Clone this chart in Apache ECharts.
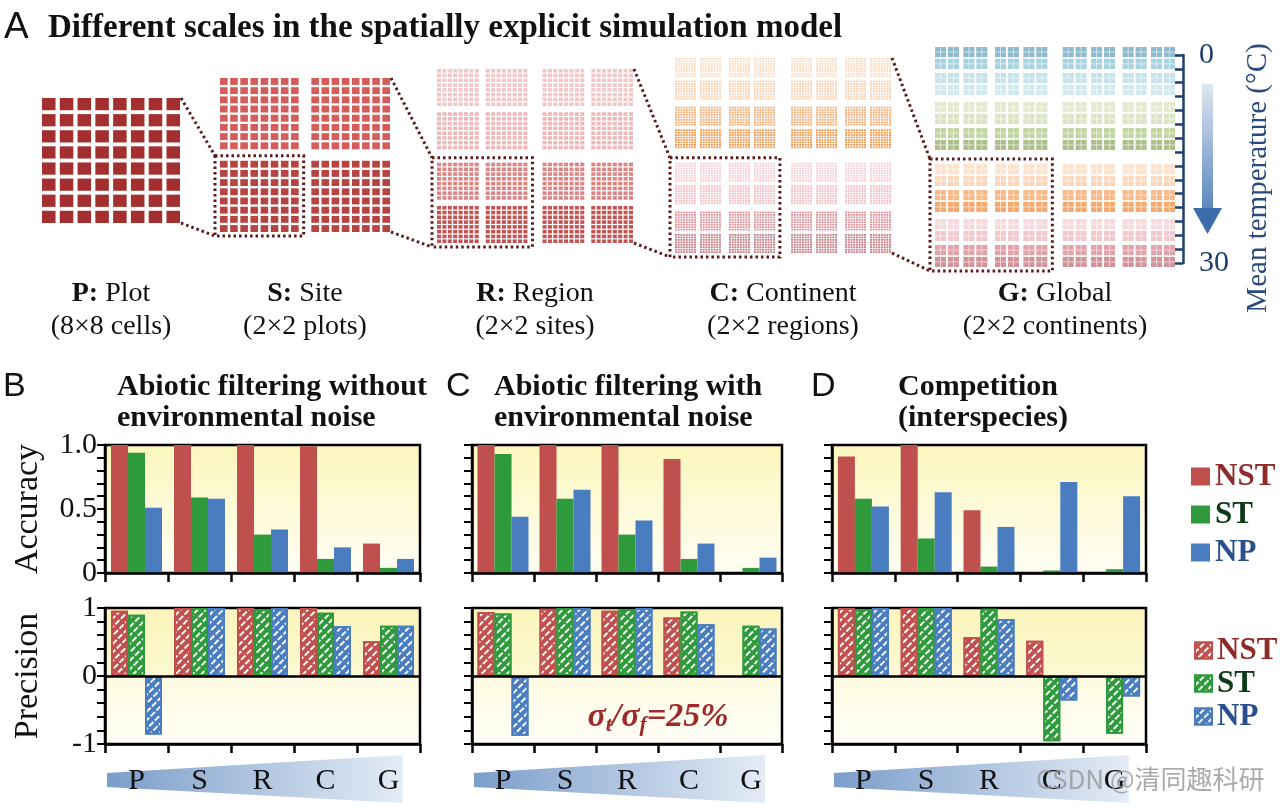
<!DOCTYPE html>
<html><head><meta charset="utf-8">
<script src="https://cdn.jsdelivr.net/npm/echarts@6/dist/echarts.min.js"></script>
<style>html,body{margin:0;padding:0;background:#fff}#c{width:1280px;height:808px}</style>
</head><body><div id="c"></div>
<script>
// ---------------- DATA ----------------
const categories = ['P', 'S', 'R', 'C', 'G'];
const seriesNames = ['NST', 'ST', 'NP'];
// Accuracy (top row of panels B, C, D)
const accB_NST = [1.00, 1.00, 1.00, 0.99, 0.23];
const accB_ST  = [0.94, 0.59, 0.30, 0.11, 0.04];
const accB_NP  = [0.51, 0.58, 0.34, 0.20, 0.11];
const accC_NST = [1.00, 1.00, 1.00, 0.89, 0];
const accC_ST  = [0.93, 0.58, 0.30, 0.11, 0.04];
const accC_NP  = [0.44, 0.65, 0.41, 0.23, 0.12];
const accD_NST = [0.91, 1.00, 0.49, 0.005, 0];
const accD_ST  = [0.58, 0.27, 0.05, 0.02, 0.03];
const accD_NP  = [0.52, 0.63, 0.36, 0.71, 0.60];
// Precision (bottom row of panels B, C, D)
const preB_NST = [0.96, 1.00, 1.00, 1.00, 0.51];
const preB_ST  = [0.90, 1.00, 0.98, 0.93, 0.74];
const preB_NP  = [-0.86, 1.00, 1.00, 0.73, 0.74];
const preC_NST = [0.94, 0.99, 0.96, 0.86, null];
const preC_ST  = [0.92, 1.00, 0.98, 0.95, 0.74];
const preC_NP  = [-0.88, 1.00, 1.00, 0.76, 0.70];
const preD_NST = [1.00, 1.00, 0.57, 0.52, null];
const preD_ST  = [0.98, 1.00, 0.99, -0.96, -0.85];
const preD_NP  = [1.00, 1.00, 0.84, -0.36, -0.30];
// Tick labels
const accTickLabels = [[0, '0'], [0.5, '0.5'], [1, '1.0']];
const preTickLabels = [[-1, '-1'], [0, '0'], [1, '1']];
const tempTickLabels = [[0, '0'], [30, '30']];
// Panel A: scale names and plot-row colours (mean temperature gradient)
const scaleLabels = [
  ['P:', ' Plot', '(8×8 cells)'],
  ['S:', ' Site', '(2×2 plots)'],
  ['R:', ' Region', '(2×2 sites)'],
  ['C:', ' Continent', '(2×2 regions)'],
  ['G:', ' Global', '(2×2 continents)']
];
const plotRowColorsP = ['#a3302f'];
const plotRowColorsS = ['#d45c5b', '#b64443'];
const plotRowColorsR = ['#f2c6c6', '#edb8b8', '#dc8484', '#c25353'];
const plotRowColorsC = ['#fcdcc2', '#fad2b3', '#f6af76', '#f19a52', '#f4d0d5', '#efc1c6', '#e0939b', '#c37e86'];
const plotRowColorsG = ['#8dbacd', '#a7d2e0', '#c6e3eb', '#d1e9ef', '#e4eacf', '#dbe5c5', '#c2d5a2', '#adc08b',
                        '#fde3ce', '#fad8be', '#f6b988', '#f3aa6f', '#f6d9dd', '#f1cacf', '#e2a2a9', '#d0959b'];

// ---------------- STYLE ----------------
const SERIF = '"Liberation Serif","DejaVu Serif",serif';
const SANS = '"Liberation Sans","DejaVu Sans",sans-serif';
const barColors = ['#c0504d', '#2f9a3c', '#4a7dc0'];
const legendTextColors = ['#8e2b2b', '#0d3a17', '#29508c'];

const scalePanels = [
  { n: 8,  u: 0.76, per: 8, gaps: [], colors: plotRowColorsP, box: [42, 98, 138, 125] },
  { n: 16, u: 0.75, per: 8, gaps: [[8, 1.0]], colors: plotRowColorsS, box: [220, 78, 170, 154] },
  { n: 32, u: 0.75, per: 8, gaps: [[8, 1.05], [16, 1.5]], colors: plotRowColorsR, box: [437, 69, 196, 174] },
  { n: 64, u: 0.72, per: 8, gaps: [[8, 1.2], [16, 1.5], [32, 3.0]], colors: plotRowColorsC, box: [675, 58, 216, 195] },
  { n: 16, u: 0.86, per: 1, gaps: [[2, 0.2], [4, 0.25], [8, 0.6]], colors: plotRowColorsG, box: [935, 47, 240, 220] }
];
function posOf(cfg, i) {
  let p = i;
  cfg.gaps.forEach(([per, g]) => { p += Math.floor(i / per) * g; });
  return p;
}
function extentOf(cfg) { return posOf(cfg, cfg.n - 1) + cfg.u; }

const barPanels = [
  { acc: [accB_NST, accB_ST, accB_NP], pre: [preB_NST, preB_ST, preB_NP], left: 105, width: 315, yLabels: true },
  { acc: [accC_NST, accC_ST, accC_NP], pre: [preC_NST, preC_ST, preC_NP], left: 472, width: 310, yLabels: false },
  { acc: [accD_NST, accD_ST, accD_NP], pre: [preD_NST, preD_ST, preD_NP], left: 832, width: 314, yLabels: false }
];
const accTop = 445, accH = 128, preTop = 608, preH = 136;

const chart = echarts.init(document.getElementById('c'));
const grids = [], xAxes = [], yAxes = [], series = [];

// Panel A grids
scalePanels.forEach((cfg, k) => {
  const ext = extentOf(cfg);
  grids.push({ left: cfg.box[0], top: cfg.box[1], width: cfg.box[2], height: cfg.box[3] });
  xAxes.push({ type: 'value', gridIndex: k, min: 0, max: ext, show: false });
  yAxes.push({ type: 'value', gridIndex: k, min: 0, max: ext, inverse: true, show: false });
  const data = [];
  for (let r = 0; r < cfg.n; r++) for (let c = 0; c < cfg.n; c++) {
    data.push([posOf(cfg, c), posOf(cfg, r), Math.floor(r / cfg.per)]);
  }
  const isG = cfg.per === 1;
  series.push({
    type: 'custom', xAxisIndex: k, yAxisIndex: k, silent: true, data: data,
    renderItem: (params, api) => {
      const p = api.coord([api.value(0), api.value(1)]);
      const s = api.size([cfg.u, cfg.u]);
      const fill = cfg.colors[api.value(2)];
      if (!isG) {
        return { type: 'rect', shape: { x: p[0], y: p[1], width: s[0], height: s[1] }, style: { fill: fill } };
      }
      // global scale: a plot block with its faint inner cell texture
      return { type: 'group', children: [
        { type: 'rect', shape: { x: p[0], y: p[1], width: s[0], height: s[1] }, style: { fill: fill } },
        { type: 'line', shape: { x1: p[0] + s[0] / 2, y1: p[1], x2: p[0] + s[0] / 2, y2: p[1] + s[1] },
          style: { stroke: 'rgba(255,255,255,0.55)', lineWidth: 1 } },
        { type: 'line', shape: { x1: p[0], y1: p[1] + s[1] / 2, x2: p[0] + s[0], y2: p[1] + s[1] / 2 },
          style: { stroke: 'rgba(255,255,255,0.55)', lineWidth: 1 } }
      ] };
    }
  });
});

// temperature scale axis (grid 5)
grids.push({ left: 1100, top: 55, width: 83, height: 208 });
xAxes.push({ type: 'value', gridIndex: 5, show: false, min: 0, max: 1 });
yAxes.push({
  type: 'value', gridIndex: 5, position: 'right', min: 0, max: 30, interval: 2, inverse: true,
  axisLine: { show: true, onZero: false, lineStyle: { color: '#1f3e6e', width: 2.5 } },
  axisTick: { show: true, inside: true, length: 8, lineStyle: { color: '#1f3e6e', width: 2.5 } },
  splitLine: { show: false },
  axisLabel: { margin: 16, fontFamily: SERIF, fontSize: 30, color: '#1f3e6e',
    formatter: v => { const t = tempTickLabels.find(d => Math.abs(d[0] - v) < 1e-6); return t ? t[1] : ''; } }
});

// Bar panels
const accBg = { type: 'linear', x: 0, y: 0, x2: 0, y2: 1, colorStops: [
  { offset: 0, color: '#fcf6bd' }, { offset: 1, color: '#fffef4' }] };
const preBg = { type: 'linear', x: 0, y: 0, x2: 0, y2: 1, colorStops: [
  { offset: 0, color: '#fbf4bb' }, { offset: 0.5, color: '#fcf8d2' },
  { offset: 0.5, color: '#fefbe2' }, { offset: 1, color: '#fffef6' }] };
const hatch = { symbol: 'rect', color: 'rgba(255,255,255,0.95)', dashArrayX: [[6, 2]], dashArrayY: [2, 4], rotation: -Math.PI / 4 };

barPanels.forEach((bp, pi) => {
  [['acc', accTop, accH], ['pre', preTop, preH]].forEach(([kind, top, h]) => {
    const gi = grids.length;
    const isPre = kind === 'pre';
    grids.push({ left: bp.left, top: top, width: bp.width, height: h, show: true,
      backgroundColor: isPre ? preBg : accBg, borderColor: '#000', borderWidth: 2.5, z: 0 });
    xAxes.push({
      type: 'category', gridIndex: gi, data: categories, z: 10,
      axisLine: { show: true, onZero: false, lineStyle: { color: '#000', width: 2.5 } },
      axisTick: { show: true, length: 9, lineStyle: { color: '#000', width: 2.5 } },
      axisLabel: { show: isPre, margin: 22, fontFamily: SERIF, fontSize: 30, color: '#111' },
      splitLine: { show: false }
    });
    const labels = isPre ? preTickLabels : accTickLabels;
    yAxes.push({
      type: 'value', gridIndex: gi, min: isPre ? -1 : 0, max: 1, interval: isPre ? 0.2 : 0.1,
      axisLine: { show: true, onZero: false, lineStyle: { color: '#000', width: 2.5 } },
      axisTick: { show: true, length: 8, lineStyle: { color: '#000', width: 2 } },
      splitLine: { show: false },
      axisLabel: { show: bp.yLabels, margin: 8, fontFamily: SERIF, fontSize: 30, color: '#111',
        formatter: v => { const t = labels.find(d => Math.abs(d[0] - v) < 1e-6); return t ? t[1] : ''; } },
      name: bp.yLabels ? (isPre ? 'Precision' : 'Accuracy') : '',
      nameLocation: 'middle', nameGap: 60,
      nameTextStyle: { fontFamily: SERIF, fontSize: 34, color: '#111' }
    });
    const vals = isPre ? bp.pre : bp.acc;
    vals.forEach((arr, si) => {
      const s = {
        type: 'bar', name: seriesNames[si] + (isPre ? ' ' : ''), xAxisIndex: gi, yAxisIndex: gi,
        data: arr, barWidth: 17, barGap: '0%',
        itemStyle: isPre
          ? { color: barColors[si], borderColor: barColors[si], borderWidth: 2, decal: hatch }
          : { color: barColors[si] }
      };
      if (isPre && si === 0) {
        s.markLine = { silent: true, symbol: 'none', label: { show: false }, animation: false,
          lineStyle: { color: '#000', width: 2.5, type: 'solid' }, data: [{ yAxis: 0 }] };
      }
      series.push(s);
    });
  });
});

const legendBase = { orient: 'vertical', icon: 'rect', selectedMode: false,
  textStyle: { fontFamily: SERIF, fontWeight: 'bold', fontSize: 31 } };

chart.setOption({
  animation: false,
  backgroundColor: '#fff',
  grid: grids, xAxis: xAxes, yAxis: yAxes, series: series,
  legend: [
    Object.assign({}, legendBase, { left: 1186, top: 456, itemWidth: 19, itemHeight: 18, itemGap: 7,
      data: seriesNames.map((n, i) => ({ name: n, textStyle: { color: legendTextColors[i] } })) }),
    Object.assign({}, legendBase, { left: 1189, top: 630, itemWidth: 17, itemHeight: 16, itemGap: 2,
      formatter: n => n.trim(),
      data: seriesNames.map((n, i) => ({ name: n + ' ', textStyle: { color: legendTextColors[i] } })) })
  ]
});

// ---------------- GRAPHIC DECORATION ----------------
const g = [];
function txt(x, y, text, font, fill, align, extra) {
  return Object.assign({ type: 'text', x: x, y: y, z: 50,
    style: { text: text, font: font, fill: fill || '#111', textAlign: align || 'left', textVerticalAlign: 'middle' } }, extra || {});
}
g.push(txt(4, 28, 'A', '37px ' + SANS, '#111'));
g.push(txt(48, 28, 'Different scales in the spatially explicit simulation model', 'bold 33px ' + SERIF));

// scale labels
scalePanels.forEach((cfg, k) => {
  const cx = cfg.box[0] + cfg.box[2] / 2;
  g.push({ type: 'text', x: cx, y: 294, z: 50, style: {
    text: '{b|' + scaleLabels[k][0] + '}{r|' + scaleLabels[k][1] + '}', textAlign: 'center', textVerticalAlign: 'middle',
    rich: { b: { fontFamily: SERIF, fontWeight: 'bold', fontSize: 28, fill: '#111' },
            r: { fontFamily: SERIF, fontSize: 28, fill: '#111' } } } });
  g.push(txt(cx, 327, scaleLabels[k][2], '28px ' + SERIF, '#111', 'center'));
});

// dotted boxes and connectors (computed from the grids)
const dotted = { stroke: '#5b1a1a', lineWidth: 3, lineDash: [2.5, 3], fill: null };
for (let k = 1; k < scalePanels.length; k++) {
  const cfg = scalePanels[k], prev = scalePanels[k - 1];
  const half = cfg.n / 2;
  const tl = chart.convertToPixel({ gridIndex: k }, [posOf(cfg, 0), posOf(cfg, half)]);
  const br = chart.convertToPixel({ gridIndex: k }, [posOf(cfg, half - 1) + cfg.u, posOf(cfg, cfg.n - 1) + cfg.u]);
  const bx = tl[0] - 5, by = tl[1] - 5, bw = br[0] - tl[0] + 10, bh = br[1] - tl[1] + 9;
  g.push({ type: 'rect', z: 60, shape: { x: bx, y: by, width: bw, height: bh }, style: Object.assign({}, dotted) });
  const pe = extentOf(prev);
  const ptr = chart.convertToPixel({ gridIndex: k - 1 }, [pe, 0]);
  const pbr = chart.convertToPixel({ gridIndex: k - 1 }, [pe, pe]);
  g.push({ type: 'line', z: 60, shape: { x1: ptr[0] + 1, y1: ptr[1], x2: bx, y2: by }, style: Object.assign({}, dotted) });
  g.push({ type: 'line', z: 60, shape: { x1: pbr[0] + 1, y1: pbr[1], x2: bx, y2: by + bh }, style: Object.assign({}, dotted) });
}

// temperature arrow
g.push({ type: 'rect', z: 40, shape: { x: 1202, y: 84, width: 11, height: 126 },
  style: { fill: { type: 'linear', x: 0, y: 0, x2: 0, y2: 1, colorStops: [{ offset: 0, color: '#dfe7f2' }, { offset: 1, color: '#5a86bd' }] } } });
g.push({ type: 'polygon', z: 40, shape: { points: [[1193, 208], [1222, 208], [1207.5, 234]] }, style: { fill: '#3d6cab' } });
g.push(txt(1258, 178, 'Mean temperature (°C)', '29px ' + SERIF, '#2a4a7c', 'center', { rotation: Math.PI / 2 }));

// panel letters and titles
g.push(txt(3, 387, 'B', '34px ' + SANS));
g.push(txt(117, 387, 'Abiotic filtering without', 'bold 30px ' + SERIF));
g.push(txt(117, 418, 'environmental noise', 'bold 30px ' + SERIF));
g.push(txt(446, 387, 'C', '34px ' + SANS));
g.push(txt(494, 387, 'Abiotic filtering with', 'bold 30px ' + SERIF));
g.push(txt(494, 418, 'environmental noise', 'bold 30px ' + SERIF));
g.push(txt(811, 387, 'D', '34px ' + SANS));
g.push(txt(898, 387, 'Competition', 'bold 30px ' + SERIF));
g.push(txt(898, 418, '(interspecies)', 'bold 30px ' + SERIF));

// scale wedges under bar panels
barPanels.forEach(bp => {
  const x0 = bp.left + 2, x1 = bp.left + bp.width * 0.945;
  g.push({ type: 'polygon', z: 1, shape: { points: [[x0, 773], [x1, 755], [x1, 803], [x0, 787]] },
    style: { fill: { type: 'linear', x: 0, y: 0, x2: 1, y2: 0, colorStops: [
      { offset: 0, color: '#7b9dca' }, { offset: 1, color: '#e4ecf6' }] } } });
});

// noise annotation
g.push({ type: 'text', x: 658, y: 717, z: 50, style: {
  text: '{s|σ}{sub|t}{s|/σ}{sub|f}{s|=25%}', textAlign: 'center', textVerticalAlign: 'middle',
  rich: { s: { fontFamily: SERIF, fontWeight: 'bold', fontStyle: 'italic', fontSize: 34, fill: '#9e2b2b' },
          sub: { fontFamily: SERIF, fontWeight: 'bold', fontStyle: 'italic', fontSize: 22, fill: '#9e2b2b', padding: [16, 0, 0, 0] } } } });

// watermark
g.push(txt(1036, 779, 'CSDN @清同趣科研', '26px "Noto Sans CJK SC",sans-serif', 'rgba(150,150,150,0.8)', 'left', { z: 70 }));

chart.setOption({ graphic: g });
</script>
</body></html>
